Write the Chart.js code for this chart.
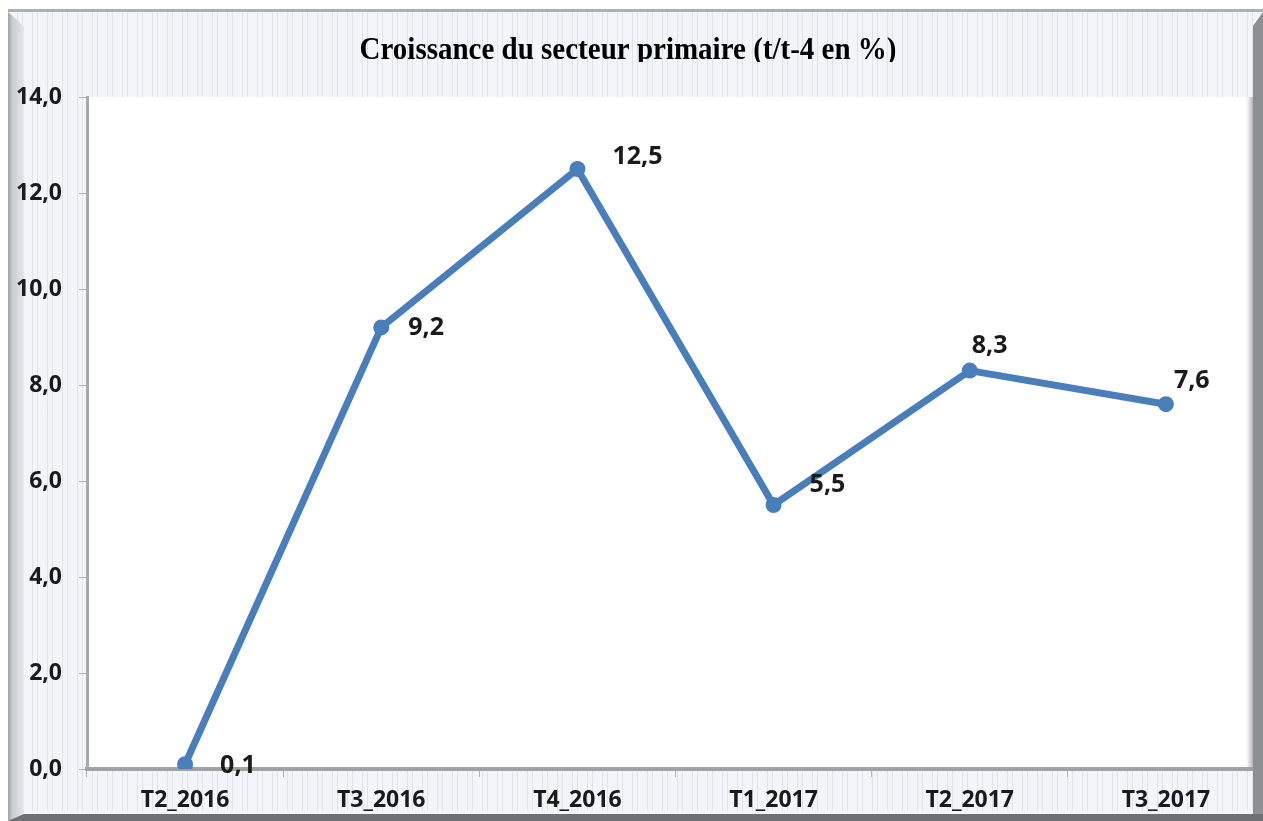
<!DOCTYPE html>
<html>
<head>
<meta charset="utf-8">
<script src="https://cdn.jsdelivr.net/npm/chart.js@4.4.1/dist/chart.umd.min.js"></script>
<style>
  html, body { margin: 0; padding: 0; background: #ffffff; overflow: hidden; width: 1263px; height: 821px; }
  #chart { display: block; }
</style>
</head>
<body>
<canvas id="chart" width="1272" height="821"></canvas>
<script>
const quarters = ['T2_2016', 'T3_2016', 'T4_2016', 'T1_2017', 'T2_2017', 'T3_2017'];
const growth = [0.1, 9.2, 12.5, 5.5, 8.3, 7.6];
const yTicks = [0, 2, 4, 6, 8, 10, 12, 14];
const chartTitle = 'Croissance du secteur primaire (t/t-4 en %)';

const fmt = v => v.toFixed(1).replace('.', ',');

// visible picture width (canvas is a bit wider so the plot runs under the right edge)
const W = 1263;

// offsets of each value label from its point (left edge, vertical middle)
const labelOffsets = [[35, 2], [27, 0], [35, -12], [36, -20], [2, -25], [8, -23]];

const framePlugin = {
  id: 'frame',
  beforeDraw(chart) {
    const { ctx, width, height, chartArea } = chart;
    ctx.save();
    ctx.fillStyle = '#ffffff';
    ctx.fillRect(0, 0, width, height);
    // textured light background
    ctx.fillStyle = '#f2f5f9';
    ctx.fillRect(8, 9, width - 8, height - 9);
    ctx.strokeStyle = 'rgba(200,208,218,0.45)';
    ctx.lineWidth = 1;
    for (let x = 12; x < W; x += 5) {
      if ((x * 7) % 3 === 0) continue;
      ctx.beginPath();
      ctx.moveTo(x + 0.5, 12);
      ctx.lineTo(x + 0.5, height - 10);
      ctx.stroke();
    }
    // top edge
    ctx.fillStyle = '#aab0b6';
    ctx.fillRect(8, 9, width - 8, 3);
    // left bevel
    const lg = ctx.createLinearGradient(8, 0, 26, 0);
    lg.addColorStop(0, '#9ea3a8');
    lg.addColorStop(0.25, '#c9cdd1');
    lg.addColorStop(1, '#e9ecef');
    ctx.fillStyle = lg;
    ctx.beginPath();
    ctx.moveTo(8, 12);
    ctx.lineTo(24, 26);
    ctx.lineTo(24, height);
    ctx.lineTo(8, height);
    ctx.closePath();
    ctx.fill();
    // white plot area
    ctx.fillStyle = '#ffffff';
    ctx.fillRect(chartArea.left, chartArea.top, 1253 - chartArea.left, chartArea.bottom - chartArea.top);
    // shadow on right of plot
    const sg = ctx.createLinearGradient(1246, 0, 1253, 0);
    sg.addColorStop(0, 'rgba(150,150,150,0)');
    sg.addColorStop(1, 'rgba(120,120,120,0.55)');
    ctx.fillStyle = sg;
    ctx.fillRect(1246, chartArea.top, 7, chartArea.bottom - chartArea.top);
    ctx.restore();
  },
  afterDraw(chart) {
    const { ctx, width, height } = chart;
    ctx.save();
    // right dark edge
    ctx.fillStyle = '#8c8f93';
    ctx.beginPath();
    ctx.moveTo(1253, 26);
    ctx.lineTo(W, 12);
    ctx.lineTo(width, 12);
    ctx.lineTo(width, height);
    ctx.lineTo(1253, height);
    ctx.closePath();
    ctx.fill();
    // bottom dark edge
    ctx.fillStyle = '#6d7074';
    ctx.beginPath();
    ctx.moveTo(8, height);
    ctx.lineTo(24, 814);
    ctx.lineTo(width, 814);
    ctx.lineTo(width, height);
    ctx.closePath();
    ctx.fill();
    // title (slightly tall, cut at the bottom as in the source)
    ctx.beginPath();
    ctx.rect(0, 0, width, 62);
    ctx.clip();
    ctx.fillStyle = '#000000';
    ctx.font = 'bold 29px "Liberation Serif", "Times New Roman", serif';
    ctx.textAlign = 'center';
    ctx.textBaseline = 'alphabetic';
    ctx.translate(628, 59);
    ctx.scale(1, 1.1);
    ctx.fillText(chartTitle, 0, 0);
    ctx.restore();
  }
};

const valueLabels = {
  id: 'valueLabels',
  afterDatasetsDraw(chart) {
    const { ctx } = chart;
    const meta = chart.getDatasetMeta(0);
    ctx.save();
    ctx.fillStyle = '#1a1a1a';
    ctx.font = 'bold 25px "Open Sans", sans-serif';
    ctx.textAlign = 'left';
    ctx.textBaseline = 'middle';
    meta.data.forEach((pt, i) => {
      const off = labelOffsets[i];
      ctx.fillText(fmt(growth[i]), pt.x + off[0], pt.y + off[1]);
    });
    ctx.restore();
  }
};

new Chart(document.getElementById('chart').getContext('2d'), {
  type: 'line',
  data: {
    labels: quarters,
    datasets: [{
      data: growth,
      borderColor: '#4a7ebb',
      backgroundColor: '#4a7ebb',
      borderWidth: 7,
      pointRadius: 8,
      pointHoverRadius: 8,
      pointBorderWidth: 0,
      tension: 0,
      fill: false
    }]
  },
  plugins: [framePlugin, valueLabels],
  options: {
    responsive: false,
    animation: false,
    events: [],
    layout: { padding: { top: 97, left: 0, right: 0, bottom: 0 } },
    plugins: {
      legend: { display: false },
      title: { display: false },
      tooltip: { enabled: false }
    },
    scales: {
      x: {
        offset: true,
        afterFit: s => { s.height = 52; },
        grid: { offset: true, drawOnChartArea: false, tickLength: 8, color: '#b3b3b3', lineWidth: 1 },
        border: { color: '#a2a2a2', width: 4 },
        ticks: {
          padding: 10,
          color: '#1a1a1a',
          font: { family: '"Open Sans", sans-serif', size: 23, weight: 'bold' }
        }
      },
      y: {
        min: 0,
        max: 14,
        afterFit: s => { s.width = 87; },
        afterBuildTicks: s => { s.ticks = yTicks.map(v => ({ value: v })); },
        grid: { drawOnChartArea: false, tickLength: 8, color: '#b3b3b3', lineWidth: 1 },
        border: { color: '#a8a8a8', width: 3 },
        ticks: {
          padding: 17,
          color: '#1a1a1a',
          font: { family: '"Open Sans", sans-serif', size: 23, weight: 'bold' },
          callback: v => fmt(v)
        }
      }
    }
  }
});
</script>
</body>
</html>
